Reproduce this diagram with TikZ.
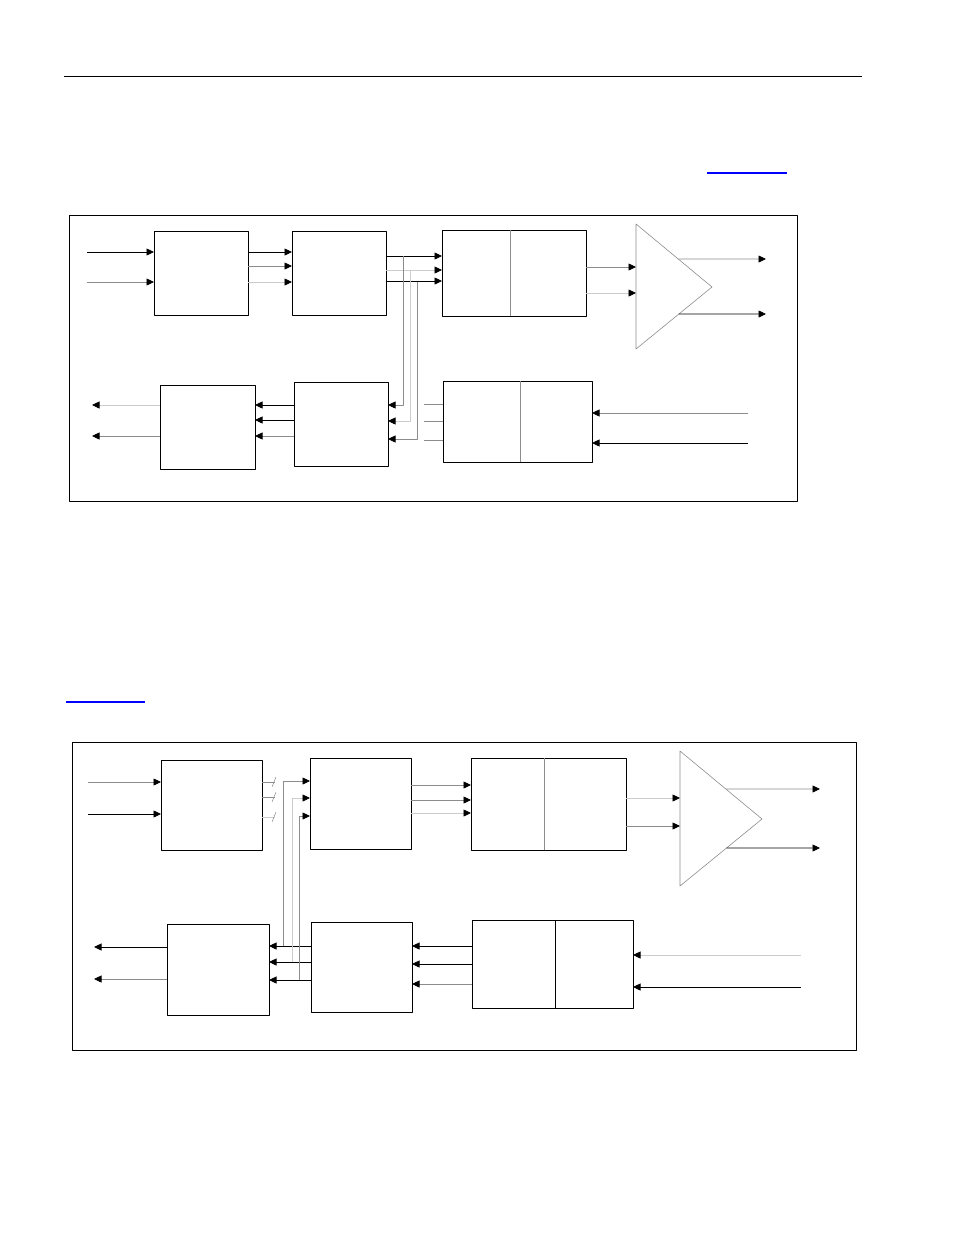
\documentclass[tikz,border=0pt]{standalone}
\usetikzlibrary{arrows.meta,calc,positioning}
\definecolor{midgray}{gray}{0.55}
\definecolor{palegray}{gray}{0.8}
\definecolor{linkblue}{rgb}{0,0,1}
\tikzset{
	blk/.style={draw,line width=0.8pt,inner sep=0pt,outer sep=0pt},
	sig/.style={line width=0.7pt,-{Triangle[length=7.5pt,width=7pt,color=black]}},
	wire/.style={line width=0.7pt},
}
\begin{document}
\begin{tikzpicture}[x=1pt,y=-1pt,line join=round]
		\useasboundingbox (0,0) rectangle (954,1235);
		\draw[line width=1pt] (64,76) -- (862,76);
		\draw[linkblue,line width=1.2pt] (707,173) -- (787,173);
		\draw[linkblue,line width=1.2pt] (66,702) -- (145,702);
		% first diagram
		\draw[line width=0.8pt] (69,215) rectangle (797,501);
		\node[blk,minimum width=94,minimum height=84] (A1) at (201,273) {};
		\node[blk,minimum width=94,minimum height=84] (B1) at (339,273) {};
		\node[blk,minimum width=144,minimum height=86] (C1) at (514,273) {};
		\node[blk,minimum width=95,minimum height=84] (A2) at (207.5,427) {};
		\node[blk,minimum width=94,minimum height=84] (B2) at (341,424) {};
		\node[blk,minimum width=149,minimum height=81] (C2) at (517.5,421.5) {};
		\draw[midgray,line width=0.6pt] (C1.north -| 510,0) -- (C1.south -| 510,0);
		\draw[midgray,line width=0.6pt] (C2.north -| 520,0) -- (C2.south -| 520,0);
		\coordinate (T1a) at (636,224);
		\coordinate (T1b) at (636,349);
		\coordinate (T1c) at (712,287);
		\draw[midgray,line width=0.6pt] (T1a) -- (T1c) -- (T1b) -- cycle;
		\coordinate (inL) at (87,0);
		\coordinate (outL) at (92,0);
		\coordinate (outR) at (766,0);
		\coordinate (inR) at (748,0);
		\foreach \y/\c in {252/black,282/midgray}{\draw[sig,\c] (inL |- 0,\y) -- (A1.west |- 0,\y);}
		\foreach \y/\c in {252/black,266/midgray,282/palegray}{\draw[sig,\c] (A1.east |- 0,\y) -- (B1.west |- 0,\y);}
		\foreach \y/\c in {256/black,270/palegray,281/black}{\draw[sig,\c] (B1.east |- 0,\y) -- (C1.west |- 0,\y);}
		\foreach \x/\ya/\yb/\c in {403/256/405/midgray,410/270/421/palegray,417/282/439/midgray}{
			\draw[sig,\c] (\x,\ya) -- (\x,\yb) -- (B2.east |- 0,\yb);}
		\foreach \y in {404,421,440}{\draw[wire,midgray] (C2.west |- 0,\y) -- (424,\y);}
		\foreach \y/\c in {405/black,420/black,436/midgray}{\draw[sig,\c] (B2.west |- 0,\y) -- (A2.east |- 0,\y);}
		\foreach \y/\c in {405/palegray,436/midgray}{\draw[sig,\c] (A2.west |- 0,\y) -- (outL |- 0,\y);}
		\foreach \y/\c in {267/midgray,293/palegray}{\draw[sig,\c] (C1.east |- 0,\y) -- (T1a |- 0,\y);}
		\draw[sig,midgray] ($(T1a)!0.556!(T1c)$) -- (outR |- 0,259);
		\draw[sig,black] ($(T1b)!0.565!(T1c)$) -- (outR |- 0,314);
		\foreach \y/\c in {413/midgray,443/black}{\draw[sig,\c] (inR |- 0,\y) -- (C2.east |- 0,\y);}
		% second diagram
		\draw[line width=0.8pt] (72,742) rectangle (856,1050);
		\node[blk,minimum width=101,minimum height=90] (A3) at (211.5,805) {};
		\node[blk,minimum width=101,minimum height=91] (B3) at (360.5,803.5) {};
		\node[blk,minimum width=155,minimum height=92] (C3) at (548.5,804) {};
		\node[blk,minimum width=102,minimum height=91] (A4) at (218,969.5) {};
		\node[blk,minimum width=101,minimum height=90] (B4) at (361.5,967) {};
		\node[blk,minimum width=161,minimum height=88] (C4) at (552.5,964) {};
		\draw[midgray,line width=0.6pt] (C3.north -| 544,0) -- (C3.south -| 544,0);
		\draw[line width=0.8pt] (C4.north -| 555,0) -- (C4.south -| 555,0);
		\coordinate (T2a) at (680,751);
		\coordinate (T2b) at (680,886);
		\coordinate (T2c) at (762,819);
		\draw[midgray,line width=0.6pt] (T2a) -- (T2c) -- (T2b) -- cycle;
		\coordinate (inL2) at (88,0);
		\coordinate (outL2) at (94,0);
		\coordinate (outR2) at (820,0);
		\coordinate (inR2) at (801,0);
		\foreach \y/\c in {782/midgray,814/black}{\draw[sig,\c] (inL2 |- 0,\y) -- (A3.west |- 0,\y);}
		\foreach \y/\c in {782/midgray,797/midgray,817/palegray}{
			\draw[wire,\c] (A3.east |- 0,\y) -- (275,\y);
			\draw[midgray,line width=0.5pt] (272,\y+5) -- (276,\y-5);}
		\foreach \y/\c in {946/black,962/black,980/black}{\draw[sig,\c] (B4.west |- 0,\y) -- (A4.east |- 0,\y);}
		\foreach \x/\ya/\yb/\c in {283/946/781/midgray,292/962/798/palegray,299/980/816/midgray}{
			\draw[sig,\c] (\x,\ya) -- (\x,\yb) -- (B3.west |- 0,\yb);}
		\foreach \y/\c in {947/black,979/midgray}{\draw[sig,\c] (A4.west |- 0,\y) -- (outL2 |- 0,\y);}
		\foreach \y/\c in {946/black,964/black,984/midgray}{\draw[sig,\c] (C4.west |- 0,\y) -- (B4.east |- 0,\y);}
		\foreach \y/\c in {785/midgray,800/midgray,813/palegray}{\draw[sig,\c] (B3.east |- 0,\y) -- (C3.west |- 0,\y);}
		\foreach \y/\c in {798/palegray,826/midgray}{\draw[sig,\c] (C3.east |- 0,\y) -- (T2a |- 0,\y);}
		\draw[sig,midgray] ($(T2a)!0.559!(T2c)$) -- (outR2 |- 0,789);
		\draw[sig,black] ($(T2b)!0.567!(T2c)$) -- (outR2 |- 0,848);
		\foreach \y/\c in {955/palegray,987/black}{\draw[sig,\c] (inR2 |- 0,\y) -- (C4.east |- 0,\y);}
\end{tikzpicture}
\end{document}
